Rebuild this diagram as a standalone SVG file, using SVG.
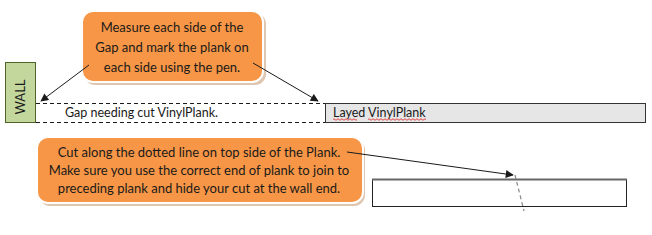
<svg xmlns="http://www.w3.org/2000/svg" width="652" height="235" viewBox="0 0 652 235">
<style>
.callout{fill:#f79646;stroke:#ffffff;stroke-width:2}
.shadow{fill:#d7b89c;opacity:0.8}
.ct{font-family:Lato,"Open Sans",sans-serif;font-size:13px;fill:#1a1a1a;text-anchor:middle}
.lbl{font-family:Lato,"Open Sans",sans-serif;font-size:12.5px;fill:#1a1a1a}
.arrow{stroke:#1a1a1a;stroke-width:1;fill:none;marker-end:url(#ah)}
.dash{stroke:#1a1a1a;stroke-width:1;stroke-dasharray:4,3;fill:none}
</style>
<defs>
<marker id="ah" viewBox="0 0 10 10" refX="9" refY="5" markerWidth="10" markerHeight="8" markerUnits="userSpaceOnUse" orient="auto">
<path d="M0,0 L10,5 L0,10 z" fill="#1a1a1a"/>
</marker>
</defs>
<rect width="652" height="235" fill="#ffffff"/>
<g id="wall">
<rect x="5.5" y="62.5" width="30" height="60" fill="#c3d69b" stroke="#4f6228" stroke-width="1"/>
<text class="lbl" transform="translate(25,97) rotate(-90)" text-anchor="middle" style="font-size:13px">WALL</text>
</g>
<g id="gap">
<line class="dash" x1="36" y1="103.5" x2="325" y2="103.5"/>
<line class="dash" x1="36" y1="122.5" x2="325" y2="122.5"/>
<text class="lbl" x="65" y="117">Gap needing cut VinylPlank.</text>
</g>
<g id="layed">
<rect x="325.5" y="103.5" width="320" height="19" fill="#e6e6e6" stroke="#333333" stroke-width="1"/>
<text class="lbl" x="333" y="117">Layed VinylPlank</text>
<path d="M333,119.5 q1,-1.5 2,0 t2,0 t2,0 t2,0 t2,0 t2,0 t2,0 t2,0 t2,0 t2,0 t2,0 t2,0 M368,119.5 q1,-1.5 2,0 t2,0 t2,0 t2,0 t2,0 t2,0 t2,0 t2,0 t2,0 t2,0 t2,0 t2,0 t2,0 t2,0 t2,0 t2,0 t2,0 t2,0 t2,0 t2,0 t2,0 t2,0 t2,0 t2,0 t2,0 t2,0 t2,0 t2,0 t2,0" fill="none" stroke="#e02020" stroke-width="0.8"/>
</g>
<g id="callout-top">
<rect class="shadow" x="84" y="13" width="182" height="72" rx="11"/>
<rect class="callout" x="82" y="11" width="181" height="71" rx="11"/>
<text class="ct" x="172" y="32">Measure each side of the</text>
<text class="ct" x="172" y="52">Gap and mark the plank on</text>
<text class="ct" x="172" y="72">each side using the pen.</text>
</g>
<g id="callout-bottom">
<rect class="shadow" x="39" y="139" width="326" height="67" rx="11"/>
<rect class="callout" x="37" y="137" width="326" height="66" rx="11"/>
<text class="ct" x="199" y="157">Cut along the dotted line on top side of the Plank.</text>
<text class="ct" x="199" y="175">Make sure you use the correct end of plank to join to</text>
<text class="ct" x="199" y="193">preceding plank and hide your cut at the wall end.</text>
</g>
<g id="plank">
<rect x="372.5" y="179.5" width="254" height="27" fill="#ffffff" stroke="#222222" stroke-width="1"/>
<line x1="372" y1="179.5" x2="627" y2="179.5" stroke="#666666" stroke-width="2"/>
<line x1="515" y1="175" x2="524" y2="211" stroke="#888888" stroke-width="1.2" stroke-dasharray="4,3"/>
</g>
<g id="connectors">
<line class="arrow" x1="89" y1="65" x2="41" y2="101"/>
<line class="arrow" x1="253" y1="63" x2="318" y2="101"/>
<line class="arrow" x1="347" y1="152" x2="513" y2="175"/>
</g>
</svg>
